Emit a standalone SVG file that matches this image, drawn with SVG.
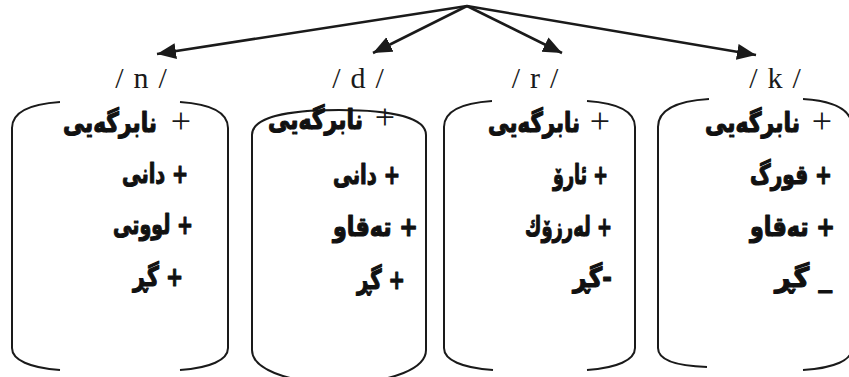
<svg xmlns="http://www.w3.org/2000/svg" width="849" height="377" viewBox="0 0 849 377">
<style>
.bg{fill:#ffffff}
.edge{fill:none;stroke:#1a1a1a;stroke-width:2.6}
.box{fill:none;stroke:#1a1a1a;stroke-width:2;stroke-linecap:butt}
.lbl{font-family:"Liberation Serif","Times New Roman",serif;font-size:30px;fill:#1a1a1a;text-anchor:middle;word-spacing:2.5px}
.ar{font-family:"DejaVu Sans","Noto Sans",sans-serif;font-weight:bold;font-size:21px;fill:#111;stroke:#111;stroke-width:0.9;stroke-linejoin:round;text-anchor:end}
.thin{font-family:"Liberation Serif","Times New Roman",serif;font-size:36px;fill:#1a1a1a;text-anchor:middle}
</style>
<defs>
<marker id="ah" markerUnits="userSpaceOnUse" markerWidth="22" markerHeight="18" refX="19" refY="8" orient="auto">
<path d="M0,0 L19,8 L0,16 Z" fill="#1a1a1a"/>
</marker>
</defs>
<rect class="bg" x="0" y="0" width="849" height="377"/>
<g id="connectors">
<line class="edge" x1="467" y1="6" x2="157" y2="54" marker-end="url(#ah)"/>
<line class="edge" x1="467" y1="6" x2="373" y2="53" marker-end="url(#ah)"/>
<line class="edge" x1="467" y1="6" x2="562" y2="53" marker-end="url(#ah)"/>
<line class="edge" x1="467" y1="6" x2="756" y2="55" marker-end="url(#ah)"/>
</g>
<g id="node-n">
<text class="lbl" x="141" y="88">/ n /</text>
<path class="box" d="M60,102 C30,104 12,112 12,128 L12,348 C12,360 30,368 60,370"/>
<path class="box" d="M180,102 C210,104 228,112 228,128 L228,348 C228,360 210,368 180,370"/>
<text class="thin" x="181" y="133">+</text>
<text class="ar" transform="translate(157,132) scale(1,1.3)" textLength="94" lengthAdjust="spacingAndGlyphs">نابرگەیی</text>
<text class="ar" transform="translate(188,183) scale(1,1.3)" textLength="66" lengthAdjust="spacingAndGlyphs">&#8207;+ دانی</text>
<text class="ar" transform="translate(193,234) scale(1,1.3)" textLength="80" lengthAdjust="spacingAndGlyphs">&#8207;+ لووتی</text>
<text class="ar" transform="translate(183,286) scale(1,1.3)" textLength="50" lengthAdjust="spacingAndGlyphs">&#8207;+ گڕ</text>
</g>
<g id="node-d">
<text class="lbl" x="358" y="88">/ d /</text>
<path class="box" d="M252,135 C252,118 285,110 339,110 C393,110 426,118 426,135 L426,350 C426,368 395,382 339,384 C283,382 252,368 252,350 Z"/>
<text class="thin" x="385" y="129">+</text>
<text class="ar" transform="translate(363,129) scale(1,1.3)" textLength="95" lengthAdjust="spacingAndGlyphs">نابرگەیی</text>
<text class="ar" transform="translate(400,184) scale(1,1.3)" textLength="67" lengthAdjust="spacingAndGlyphs">&#8207;+ دانی</text>
<text class="ar" transform="translate(418,236) scale(1,1.3)" textLength="85" lengthAdjust="spacingAndGlyphs">&#8207;+ تەقاو</text>
<text class="ar" transform="translate(405,289) scale(1,1.3)" textLength="48" lengthAdjust="spacingAndGlyphs">&#8207;+ گڕ</text>
</g>
<g id="node-r">
<text class="lbl" x="535" y="88">/ r /</text>
<path class="box" d="M492,101 C462,103 444,111 444,127 L444,348 C444,360 462,368 493,370"/>
<path class="box" d="M587,101 C617,103 635,111 635,127 L635,348 C635,360 617,368 587,370"/>
<text class="thin" x="600" y="133">+</text>
<text class="ar" transform="translate(580,132) scale(1,1.3)" textLength="92" lengthAdjust="spacingAndGlyphs">نابرگەیی</text>
<text class="ar" transform="translate(608,184) scale(1,1.3)" textLength="55" lengthAdjust="spacingAndGlyphs">&#8207;+ ئارۆ</text>
<text class="ar" transform="translate(612,236) scale(1,1.3)" textLength="87" lengthAdjust="spacingAndGlyphs">&#8207;+ لەرزۆك</text>
<text class="ar" transform="translate(612,287) scale(1,1.3)" textLength="39" lengthAdjust="spacingAndGlyphs">&#8207;-گڕ</text>
</g>
<g id="node-k">
<text class="lbl" x="775" y="88">/ k /</text>
<path class="box" d="M709,99 C677,101 658,110 658,127 L658,348 C658,360 677,366 707,367"/>
<path class="box" d="M803,99 C835,101 852,110 852,127 L852,348 C852,360 835,368 803,370"/>
<text class="thin" x="822" y="133">+</text>
<text class="ar" transform="translate(800,132) scale(1,1.3)" textLength="95" lengthAdjust="spacingAndGlyphs">نابرگەیی</text>
<text class="ar" transform="translate(832,184) scale(1,1.3)" textLength="82" lengthAdjust="spacingAndGlyphs">&#8207;+ قورگ</text>
<text class="ar" transform="translate(835,236) scale(1,1.3)" textLength="85" lengthAdjust="spacingAndGlyphs">&#8207;+ تەقاو</text>
<text class="ar" transform="translate(832,287) scale(1,1.3)" textLength="57" lengthAdjust="spacingAndGlyphs">&#8207;_ گڕ</text>
</g>
</svg>
